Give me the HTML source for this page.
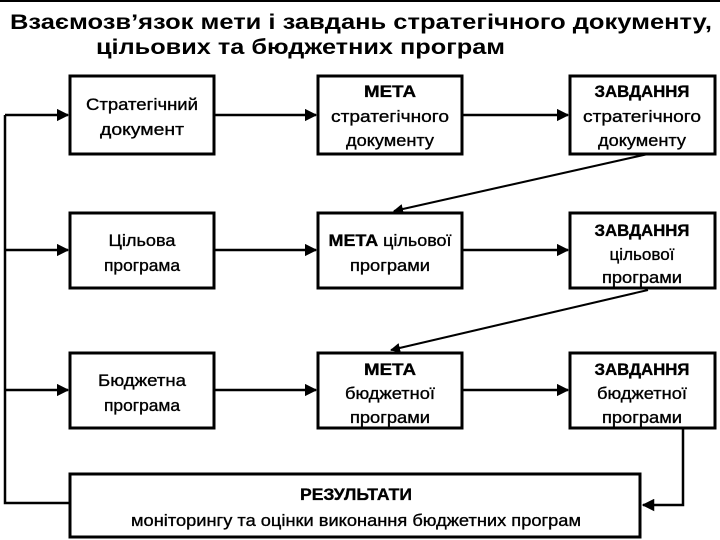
<!DOCTYPE html>
<html><head><meta charset="utf-8"><style>
html,body{margin:0;padding:0;background:#fff;width:720px;height:540px;overflow:hidden}
svg{display:block}
.t{font-family:"Liberation Sans Narrow","Liberation Sans",sans-serif;font-size:17px;fill:#000;text-anchor:middle;stroke:#000;stroke-width:0.35}
.b{font-weight:bold}
.h{font-family:"Liberation Sans",sans-serif;font-weight:bold;font-size:21px;fill:#000}
</style></head><body>
<svg width="720" height="540" viewBox="0 0 720 540">
<defs><marker id="a" viewBox="0 0 10 10" refX="9" refY="5" markerWidth="5" markerHeight="5" orient="auto"><path d="M0,0L10,5L0,10z" fill="#000"/></marker></defs>
<line x1="0" y1="1" x2="720" y2="1" stroke="#000" stroke-width="2"/>
<text class="h" x="10" y="29" textLength="702" lengthAdjust="spacingAndGlyphs">Взаємозв’язок мети і завдань стратегічного документу,</text>
<text class="h" x="96" y="54" textLength="409" lengthAdjust="spacingAndGlyphs">цільових та бюджетних програм</text>
<g fill="none" stroke="#000" stroke-width="3">
<rect x="70" y="76" width="144" height="78"/>
<rect x="318" y="76" width="144" height="78"/>
<rect x="570" y="76" width="145" height="78"/>
<rect x="70" y="213" width="144" height="75"/>
<rect x="318" y="213" width="144" height="75"/>
<rect x="570" y="213" width="145" height="75"/>
<rect x="70" y="353" width="144" height="75"/>
<rect x="318" y="353" width="144" height="75"/>
<rect x="570" y="353" width="145" height="75"/>
<rect x="70" y="474" width="570" height="63"/>
</g>
<g stroke="#000" stroke-width="2.5" fill="none">
<polyline points="70,503 5,503 5,115"/>
<line x1="5" y1="115" x2="68" y2="115" marker-end="url(#a)"/>
<line x1="5" y1="250" x2="68" y2="250" marker-end="url(#a)"/>
<line x1="5" y1="390" x2="68" y2="390" marker-end="url(#a)"/>
<line x1="214" y1="115" x2="316" y2="115" marker-end="url(#a)"/>
<line x1="462" y1="115" x2="568" y2="115" marker-end="url(#a)"/>
<line x1="214" y1="250" x2="316" y2="250" marker-end="url(#a)"/>
<line x1="462" y1="250" x2="568" y2="250" marker-end="url(#a)"/>
<line x1="214" y1="390" x2="316" y2="390" marker-end="url(#a)"/>
<line x1="462" y1="390" x2="568" y2="390" marker-end="url(#a)"/>
<line x1="648" y1="154" x2="394" y2="211" marker-end="url(#a)" stroke-width="2"/>
<line x1="648" y1="290" x2="391" y2="350" marker-end="url(#a)" stroke-width="2"/>
<polyline points="683,428 683,505 643,505" marker-end="url(#a)"/>
</g>
<g lengthAdjust="spacingAndGlyphs">
<text class="t" x="142" y="110" textLength="112" lengthAdjust="spacingAndGlyphs">Стратегічний</text>
<text class="t" x="142" y="135" textLength="84" lengthAdjust="spacingAndGlyphs">документ</text>
<text class="t b" x="390" y="97" textLength="52" lengthAdjust="spacingAndGlyphs">МЕТА</text>
<text class="t" x="390" y="122" textLength="118" lengthAdjust="spacingAndGlyphs">стратегічного</text>
<text class="t" x="390" y="146" textLength="88" lengthAdjust="spacingAndGlyphs">документу</text>
<text class="t b" x="642" y="97" textLength="95" lengthAdjust="spacingAndGlyphs">ЗАВДАННЯ</text>
<text class="t" x="642" y="122" textLength="118" lengthAdjust="spacingAndGlyphs">стратегічного</text>
<text class="t" x="642" y="146" textLength="88" lengthAdjust="spacingAndGlyphs">документу</text>
<text class="t" x="142" y="246" textLength="67" lengthAdjust="spacingAndGlyphs">Цільова</text>
<text class="t" x="142" y="271" textLength="76" lengthAdjust="spacingAndGlyphs">програма</text>
<text class="t" x="390" y="246" textLength="123" lengthAdjust="spacingAndGlyphs"><tspan class="b">МЕТА</tspan> цільової</text>
<text class="t" x="390" y="271" textLength="80" lengthAdjust="spacingAndGlyphs">програми</text>
<text class="t b" x="642" y="236" textLength="95" lengthAdjust="spacingAndGlyphs">ЗАВДАННЯ</text>
<text class="t" x="642" y="260" textLength="65" lengthAdjust="spacingAndGlyphs">цільової</text>
<text class="t" x="642" y="283" textLength="80" lengthAdjust="spacingAndGlyphs">програми</text>
<text class="t" x="142" y="386" textLength="88" lengthAdjust="spacingAndGlyphs">Бюджетна</text>
<text class="t" x="142" y="411" textLength="76" lengthAdjust="spacingAndGlyphs">програма</text>
<text class="t b" x="390" y="375" textLength="52" lengthAdjust="spacingAndGlyphs">МЕТА</text>
<text class="t" x="390" y="399" textLength="90" lengthAdjust="spacingAndGlyphs">бюджетної</text>
<text class="t" x="390" y="423" textLength="80" lengthAdjust="spacingAndGlyphs">програми</text>
<text class="t b" x="642" y="375" textLength="95" lengthAdjust="spacingAndGlyphs">ЗАВДАННЯ</text>
<text class="t" x="642" y="399" textLength="90" lengthAdjust="spacingAndGlyphs">бюджетної</text>
<text class="t" x="642" y="423" textLength="80" lengthAdjust="spacingAndGlyphs">програми</text>
<text class="t b" x="356" y="500" textLength="112" lengthAdjust="spacingAndGlyphs">РЕЗУЛЬТАТИ</text>
<text class="t" x="356" y="526" textLength="450" lengthAdjust="spacingAndGlyphs">моніторингу та оцінки виконання бюджетних програм</text>
</g>
</svg>
</body></html>
